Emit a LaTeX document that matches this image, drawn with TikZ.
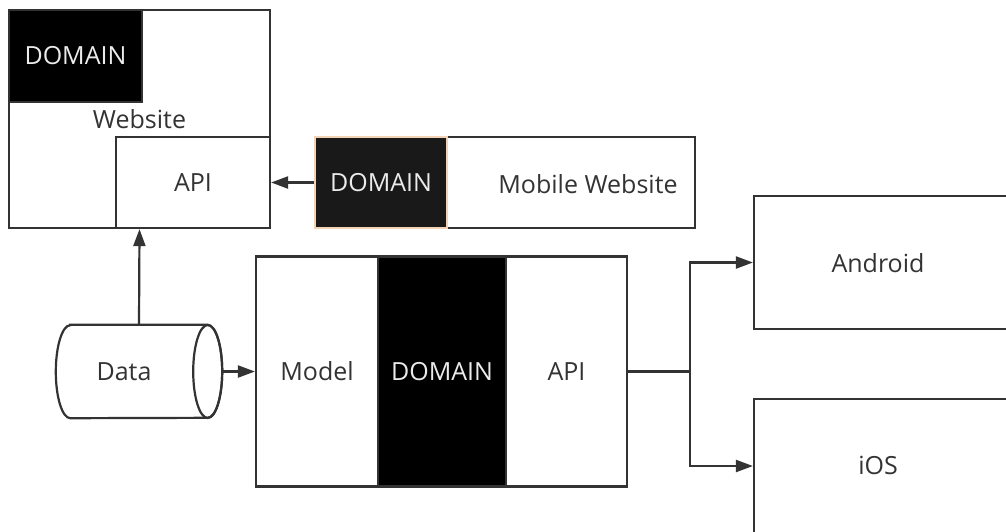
\documentclass[tikz,border=0pt]{standalone}
\usepackage{fontspec}
\setmainfont{Open Sans}
\usetikzlibrary{arrows.meta}
\definecolor{ink}{HTML}{333333}
\definecolor{peach}{HTML}{F2D3B5}
\begin{document}
\begin{tikzpicture}[x=1pt,y=-1pt,font=\fontsize{25}{29}\selectfont]
  \tikzstyle{line} = [draw=ink, line width=2.2pt];
  \tikzstyle{box} = [line, text=ink, inner sep=0pt];
  \tikzstyle{darkbox} = [box, fill=black, text=white!92!black];
  \tikzstyle{arr} = [line, -{Triangle[length=17pt,width=12pt]}];

  \clip (0,0) rectangle (1006,531);
  \fill[white] (0,0) rectangle (1006,531);

  % website
  \node[box, minimum width=261, minimum height=218] (website) at (139.5,119) {Website};
  \node[darkbox, minimum width=133, minimum height=92] (wdomain) at (75.5,56) {DOMAIN};
  \node[box, fill=white, minimum width=154, minimum height=91] (wapi) at (193,182.5) {API};

  % mobile website
  \node[box, minimum width=380, minimum height=91] (mobile) at (505,182.5) {};
  \node[darkbox, draw=peach, minimum width=132, minimum height=91, fill=black!90] (mdomain) at (381,182.5) {DOMAIN};
  \node[text=ink] (mtext) at (588,184) {Mobile Website};

  % data store
  \node[text=ink, inner sep=0pt, minimum width=166, minimum height=93] (data) at (139,371.5) {Data\kern30pt};
  \draw[line] ([xshift=14.5pt]data.north west) -- ([xshift=-14.5pt]data.north east)
    arc(90:-90:14.5pt and 46.5pt) -- ([xshift=14.5pt]data.south west)
    arc(270:90:14.5pt and 46.5pt) -- cycle;
  \draw[line] ([xshift=-14.5pt]data.east) ellipse (14.5pt and 46.5pt);

  % backend
  \node[box, minimum width=122, minimum height=230] (model) at (317,371.5) {Model};
  \node[darkbox, minimum width=128, minimum height=230] (bdomain) at (442,371.5) {DOMAIN};
  \node[box, minimum width=121, minimum height=230] (bapi) at (566.5,371.5) {API};

  % clients
  \node[box, minimum width=254, minimum height=133] (android) at (881,262.5) {};
  \node[text=ink] (atext) at (878,263) {Android};
  \node[box, minimum width=254, minimum height=134] (ios) at (881,466) {};
  \node[text=ink] (itext) at (878,465) {iOS};

  \coordinate (split) at (690,371.5);

  \draw[arr] (mobile.west) -- (wapi.east);
  \draw[arr] (data.north) -- (website.south);
  \draw[arr] (data.east) -- (model.west);
  \draw[line] (bapi.east) -- (split);
  \draw[arr] (split) |- (android.west);
  \draw[arr] (split) |- (ios.west);

\end{tikzpicture}
\end{document}
